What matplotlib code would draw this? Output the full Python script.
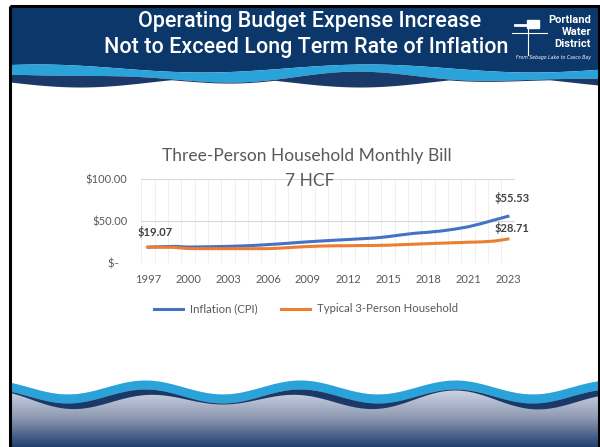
import numpy as np
import matplotlib.pyplot as plt
from matplotlib.patches import Rectangle
from matplotlib.colors import LinearSegmentedColormap

# monthly bill (28 points, 1997 -> 2023)
inflation = [19.07, 19.6, 20.0, 19.2, 19.4, 19.7, 20.0, 20.5, 21.2, 22.1,
             23.1, 24.3, 25.4, 26.4, 27.3, 28.1, 29.0, 29.9, 31.5, 33.6,
             35.5, 36.7, 38.2, 40.4, 43.1, 46.9, 51.3, 55.53]
household = [19.07, 19.0, 18.8, 17.4, 17.3, 17.3, 17.3, 17.3, 17.3, 17.3,
             18.0, 19.0, 19.8, 20.4, 20.7, 20.8, 21.0, 21.1, 21.4, 22.0,
             22.6, 23.2, 23.8, 24.3, 24.9, 25.3, 26.3, 28.71]
tick_labels = ['1997', '2000', '2003', '2006', '2009', '2012', '2015', '2018', '2021', '2023']
y_ticks = [0, 50, 100]
y_labels = ['$-   ', '$50.00', '$100.00']

navy = '#0b376a'
light_blue = '#29a3d9'
dark_band = '#1b3968'
blue = '#4472c4'
orange = '#ed7d31'
grey = '#595959'

fig = plt.figure(figsize=(6, 4.47), dpi=100)

# slide background in pixel coords
bg = fig.add_axes([0, 0, 1, 1])
bg.set_xlim(0, 600)
bg.set_ylim(447, 0)
bg.axis('off')

x = np.linspace(10, 599, 500)

# header
lb_top = 68 + 4 * np.sin(2 * np.pi * (x - 120) / 330)
lb_bot = lb_top + 9 + 2 * np.sin(2 * np.pi * x / 200)
white_edge = np.maximum(82 + 5 * np.sin(2 * np.pi * (x - 290) / 280), lb_bot + 1)
bg.fill_between(x, 6, lb_top, color=navy, lw=0)
bg.fill_between(x, lb_top, lb_bot, color=light_blue, lw=0)
bg.fill_between(x, lb_bot, white_edge, color=dark_band, lw=0)

# footer
grad = LinearSegmentedColormap.from_list('foot', ['#d0d8e8', '#8f9ab2', '#21406f'])
bg.imshow(np.linspace(0, 1, 100).reshape(-1, 1), cmap=grad, aspect='auto',
          extent=[10, 599, 447, 388], zorder=1)
f_top = 387 - 7 * np.cos(2 * np.pi * (x - 145) / 155)
f_mid = f_top + 9
f_bot = f_mid + 4 + 3 * np.sin(2 * np.pi * (x - 50) / 230)
bg.fill_between(x, 375, f_top, color='white', lw=0, zorder=2)
bg.fill_between(x, f_top, f_mid, color=light_blue, lw=0, zorder=3)
bg.fill_between(x, f_mid, f_bot, color=dark_band, lw=0, zorder=3)

bg.add_patch(Rectangle((10, 6), 589, 445, fill=False, ec='black', lw=2.2, zorder=5))

bg.text(310, 22, 'Operating Budget Expense Increase', color='white', fontsize=15.5,
        family='Roboto', fontweight='medium', ha='center', va='center')
bg.text(306, 47, 'Not to Exceed Long Term Rate of Inflation', color='white', fontsize=15.5,
        family='Roboto', fontweight='medium', ha='center', va='center')

# logo
for i, word in enumerate(['Portland', 'Water', 'District']):
    bg.text(591, 20 + i * 12, word, color='white', fontsize=8, fontweight='bold',
            family='Roboto', ha='right', va='center')
bg.text(591, 58, 'From Sebago Lake to Casco Bay', color='white', fontsize=3.3,
        style='italic', ha='right', va='center')
bg.plot([528, 528], [24, 55], color='white', lw=0.8)
bg.plot([512, 547], [33, 33], color='white', lw=0.8)
bg.add_patch(Rectangle((527, 20), 12, 8, color='white'))
bg.plot([515, 527], [25, 25], color='white', lw=2)

# chart
ax = fig.add_axes([141.4 / 600, 183.7 / 447, 373.2 / 600, 84.6 / 447])
ax.set_facecolor('none')
idx = np.arange(len(inflation))
ax.set_xlim(-0.5, len(inflation) - 0.5)
ax.set_ylim(0, 100)
for b in np.arange(-0.5, len(inflation), 1):
    ax.axvline(b, color='#ececec', lw=0.6, zorder=0)
for t in y_ticks:
    ax.axhline(t, color='#d9d9d9', lw=0.8, zorder=0)

ax.plot(idx, inflation, color=blue, lw=2.2, label='Inflation (CPI)', zorder=3)
ax.plot(idx, household, color=orange, lw=2.2, label='Typical 3-Person Household', zorder=3)

# chart title, drawn on top of the gridlines
ax.text(307, 156, 'Three-Person Household Monthly Bill', color=grey, fontsize=12.5,
        family='Lato', ha='center', va='center', transform=bg.transData, zorder=4)
ax.text(310, 181, '7 HCF', color=grey, fontsize=12.5, family='Lato',
        ha='center', va='center', transform=bg.transData, zorder=4)

ax.set_xticks(idx[::3])
ax.set_xticklabels(tick_labels)
ax.set_yticks(y_ticks)
ax.set_yticklabels(y_labels)
ax.tick_params(length=0, labelsize=8, labelcolor=grey, pad=8)
ax.tick_params(axis='y', pad=10)
for lab in ax.get_xticklabels() + ax.get_yticklabels():
    lab.set_family('Lato')
for s in ax.spines.values():
    s.set_visible(False)

lab_kw = dict(textcoords='offset points', fontsize=8, fontweight='bold',
              color='#404040', family='Lato', ha='center', va='center')
ax.annotate('$19.07', (0, household[0]), xytext=(5, 11), **lab_kw)
ax.annotate('$55.53', (idx[-1], inflation[-1]), xytext=(3, 13), **lab_kw)
ax.annotate('$28.71', (idx[-1], household[-1]), xytext=(3, 8), **lab_kw)

leg = ax.legend(loc='center', bbox_to_anchor=(306 / 600, (447 - 309) / 447),
                bbox_transform=fig.transFigure, ncol=2, frameon=False,
                fontsize=8.2, handlelength=2.6, columnspacing=2.0, handletextpad=0.6)
for t in leg.get_texts():
    t.set_color(grey)
    t.set_family('Lato')

fig.savefig('out.png', dpi=100)
